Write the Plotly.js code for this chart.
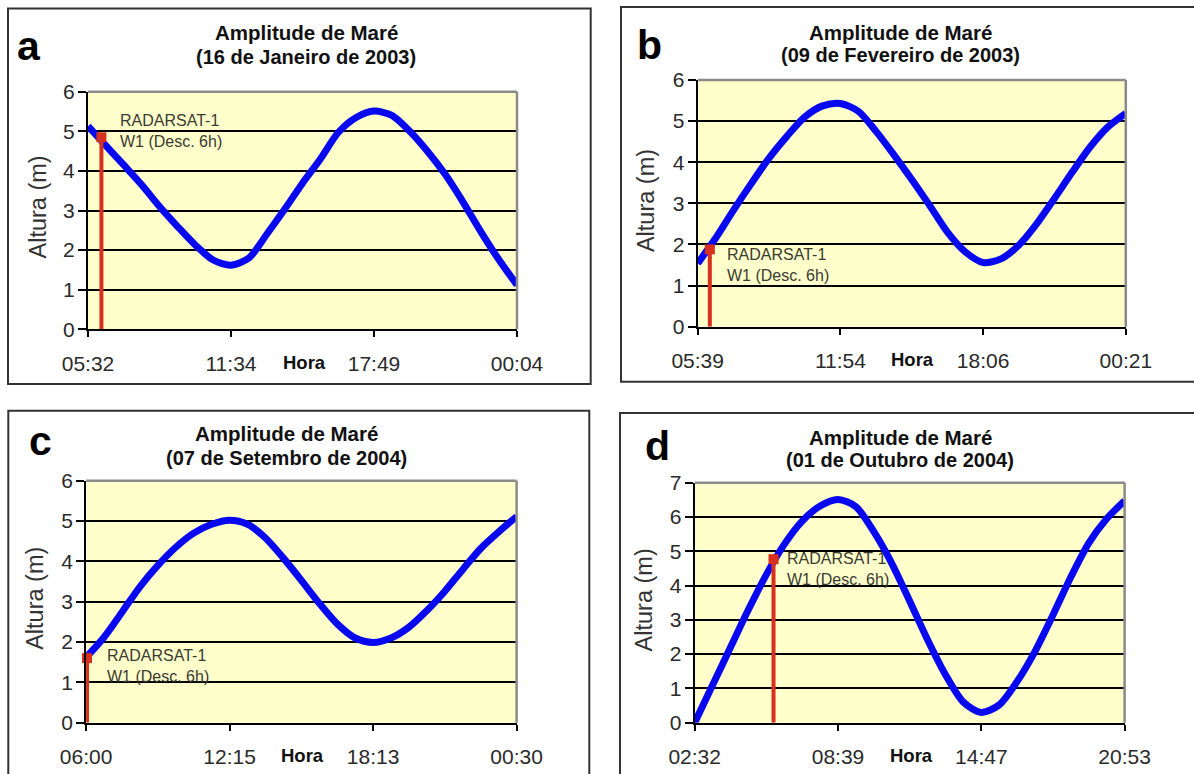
<!DOCTYPE html>
<html>
<head>
<meta charset="utf-8">
<script src="https://cdn.plot.ly/plotly-3.0.1.min.js"></script>
<style>html,body{margin:0;padding:0;background:#fff;}#chart{width:1194px;height:774px;}</style>
</head>
<body>
<div id="chart"></div>
<script>
// ---------- data ----------
const panelLetters = ['a', 'b', 'c', 'd'];
const titleLine1 = 'Amplitude de Maré';
const titleDates = ['(16 de Janeiro de 2003)', '(09 de Fevereiro de 2003)', '(07 de Setembro de 2004)', '(01 de Outubro de 2004)'];
const tickLabelsA = ['05:32', '11:34', '17:49', '00:04'];
const tickLabelsB = ['05:39', '11:54', '18:06', '00:21'];
const tickLabelsC = ['06:00', '12:15', '18:13', '00:30'];
const tickLabelsD = ['02:32', '08:39', '14:47', '20:53'];
const sampleIndex = [0,1,2,3,4,5,6,7,8,9,10,11,12,13,14,15,16,17,18,19,20,21,22,23,24];
const tideA = [5.13,4.64,4.15,3.65,3.10,2.60,2.13,1.75,1.62,1.80,2.40,3.03,3.69,4.30,4.97,5.35,5.51,5.40,5.00,4.49,3.90,3.20,2.45,1.75,1.12];
const tideB = [1.54,2.15,2.83,3.48,4.10,4.63,5.10,5.37,5.43,5.24,4.75,4.18,3.58,2.95,2.30,1.82,1.56,1.65,1.98,2.50,3.12,3.76,4.37,4.86,5.19];
const tideC = [1.62,2.12,2.74,3.37,3.90,4.35,4.70,4.92,5.02,4.92,4.58,4.08,3.53,2.96,2.45,2.10,1.99,2.10,2.37,2.78,3.26,3.80,4.32,4.73,5.11];
const tideD = [0.00,1.10,2.20,3.30,4.32,5.20,5.88,6.32,6.51,6.30,5.57,4.65,3.55,2.42,1.40,0.60,0.30,0.52,1.20,2.08,3.14,4.25,5.24,5.95,6.47];
const obsX = [0.75, 0.68, 0.05, 4.40];   // RADARSAT-1 acquisition (sample index)
const obsY = [4.85, 1.88, 1.60, 4.77];   // tide height at acquisition (m)
const yMax = [6, 6, 6, 7];
const obsLabel = 'RADARSAT-1<br>W1 (Desc. 6h)';

const tickLabels = [tickLabelsA, tickLabelsB, tickLabelsC, tickLabelsD];
const tides = [tideA, tideB, tideC, tideD];

// ---------- layout geometry (pixels) ----------
const W = 1194, H = 774;
const px = v => v / W;
const py = v => 1 - v / H;
const plotBox = [ // [x0, x1, yTop, yBottom]
  [88, 517, 91.7, 329.3],
  [697.7, 1125.8, 80, 326.7],
  [86.1, 516.6, 480.7, 722.7],
  [694.7, 1124.6, 482.7, 722.7]
];
const frameBox = [ // [x0, y0, x1, y1]
  [8, 8.5, 590.7, 384],
  [621, 7, 1200, 381.7],
  [8.3, 410.7, 589.3, 780],
  [620, 413, 1200, 780]
];
const letterPos = [[29, 46], [649, 45], [40, 441], [657, 446]];
const titleX = [306, 900, 286, 900];
const titleY1 = [33, 32, 433, 437];
const titleY2 = [57, 55, 458, 460];
const obsTextPos = [[1.67, 5.01], [1.53, 1.49], [1.07, 1.41], [5.04, 4.48]];
const horaX = [304, 912, 302, 911];

const FONT = 'Liberation Sans, Arial, Helvetica, sans-serif';
const traces = [];
const layout = {
  width: W, height: H,
  margin: {l: 0, r: 0, t: 0, b: 0},
  paper_bgcolor: '#ffffff',
  plot_bgcolor: '#FFFFCC',
  showlegend: false,
  font: {family: FONT, color: '#222'},
  annotations: [],
  shapes: []
};

for (let k = 0; k < 4; k++) {
  const n = k === 0 ? '' : String(k + 1);
  const xa = 'x' + n, ya = 'y' + n;
  const b = plotBox[k];
  layout['xaxis' + n] = {
    domain: [px(b[0]), px(b[1])], anchor: ya,
    range: [0, 24], tickvals: [0, 8, 16, 24], ticktext: tickLabels[k],
    showgrid: false, zeroline: false, showline: true, linecolor: '#000', linewidth: 2,
    ticks: 'outside', ticklen: 6, tickwidth: 2, tickcolor: '#000', ticklabelstandoff: 8,
    tickfont: {size: 21, color: '#2a2a2a', family: FONT}, fixedrange: true
  };
  const yt = [];
  for (let v = 0; v <= yMax[k]; v++) yt.push(v);
  layout['yaxis' + n] = {
    domain: [py(b[3]), py(b[2])], anchor: xa,
    range: [0, yMax[k]], tickvals: yt,
    showgrid: true, gridcolor: '#000', gridwidth: 2,
    zeroline: false, showline: true, linecolor: '#000', linewidth: 2,
    ticks: 'outside', ticklen: 8, tickwidth: 2, tickcolor: '#000', ticklabelstandoff: -1,
    tickfont: {size: 21, color: '#2a2a2a', family: FONT}, fixedrange: true
  };

  traces.push({
    x: sampleIndex, y: tides[k], xaxis: xa, yaxis: ya,
    type: 'scatter', mode: 'lines',
    line: {color: '#0808F0', width: 7, shape: 'spline', smoothing: 0.8},
    hoverinfo: 'skip'
  });
  traces.push({
    x: [obsX[k], obsX[k]], y: [0, obsY[k]], xaxis: xa, yaxis: ya,
    type: 'scatter', mode: 'lines',
    line: {color: '#D8301E', width: 4}, hoverinfo: 'skip'
  });
  traces.push({
    x: [obsX[k]], y: [obsY[k]], xaxis: xa, yaxis: ya,
    type: 'scatter', mode: 'markers', cliponaxis: false,
    marker: {symbol: 'square', size: 10, color: '#D8301E'}, hoverinfo: 'skip'
  });

  // grey top/right plot border
  layout.shapes.push({type: 'line', xref: xa + ' domain', yref: ya + ' domain', x0: 0, x1: 1, y0: 1, y1: 1,
    line: {color: '#8a8a8a', width: 2.5}, layer: 'above'});
  layout.shapes.push({type: 'line', xref: xa + ' domain', yref: ya + ' domain', x0: 1, x1: 1, y0: 0, y1: 1,
    line: {color: '#8a8a8a', width: 2.5}, layer: 'above'});
  // panel frame
  const f = frameBox[k];
  layout.shapes.push({type: 'rect', xref: 'paper', yref: 'paper', x0: px(f[0]), x1: px(f[2]), y0: py(f[3]), y1: py(f[1]),
    line: {color: '#333', width: 2}, fillcolor: 'rgba(0,0,0,0)', layer: 'below'});

  // panel letter
  layout.annotations.push({xref: 'paper', yref: 'paper', x: px(letterPos[k][0]), y: py(letterPos[k][1]),
    xanchor: 'center', yanchor: 'middle', showarrow: false, text: '<b>' + panelLetters[k] + '</b>',
    font: {size: 41, color: '#000', family: FONT}});
  // title (two lines)
  layout.annotations.push({xref: 'paper', yref: 'paper', x: px(titleX[k]), y: py(titleY1[k]),
    xanchor: 'center', yanchor: 'middle', showarrow: false,
    text: '<b>' + titleLine1 + '</b>', font: {size: 20.5, color: '#111', family: FONT}});
  layout.annotations.push({xref: 'paper', yref: 'paper', x: px(titleX[k]), y: py(titleY2[k]),
    xanchor: 'center', yanchor: 'middle', showarrow: false,
    text: '<b>' + titleDates[k] + '</b>', font: {size: 20, color: '#111', family: FONT}});
  // y axis title
  layout.annotations.push({xref: 'paper', yref: 'paper', x: px(b[0] - 51), y: py((b[2] + b[3]) / 2 - 3),
    xanchor: 'center', yanchor: 'middle', showarrow: false, textangle: -90, text: 'Altura (m)',
    font: {size: 23.5, color: '#333', family: FONT}});
  // x axis title "Hora"
  layout.annotations.push({xref: 'paper', yref: 'paper', x: px(horaX[k]), y: py(b[3] + 33),
    xanchor: 'center', yanchor: 'middle', showarrow: false, text: '<b>Hora</b>',
    font: {size: 18.5, color: '#111', family: FONT}});
  // RADARSAT label
  layout.annotations.push({xref: xa, yref: ya, x: obsTextPos[k][0], y: obsTextPos[k][1],
    xanchor: 'left', yanchor: 'middle', align: 'left', showarrow: false, text: obsLabel,
    font: {size: 16, color: '#3a3a30', family: FONT}});
}

Plotly.newPlot('chart', traces, layout, {staticPlot: true, displayModeBar: false});
</script>
</body>
</html>
